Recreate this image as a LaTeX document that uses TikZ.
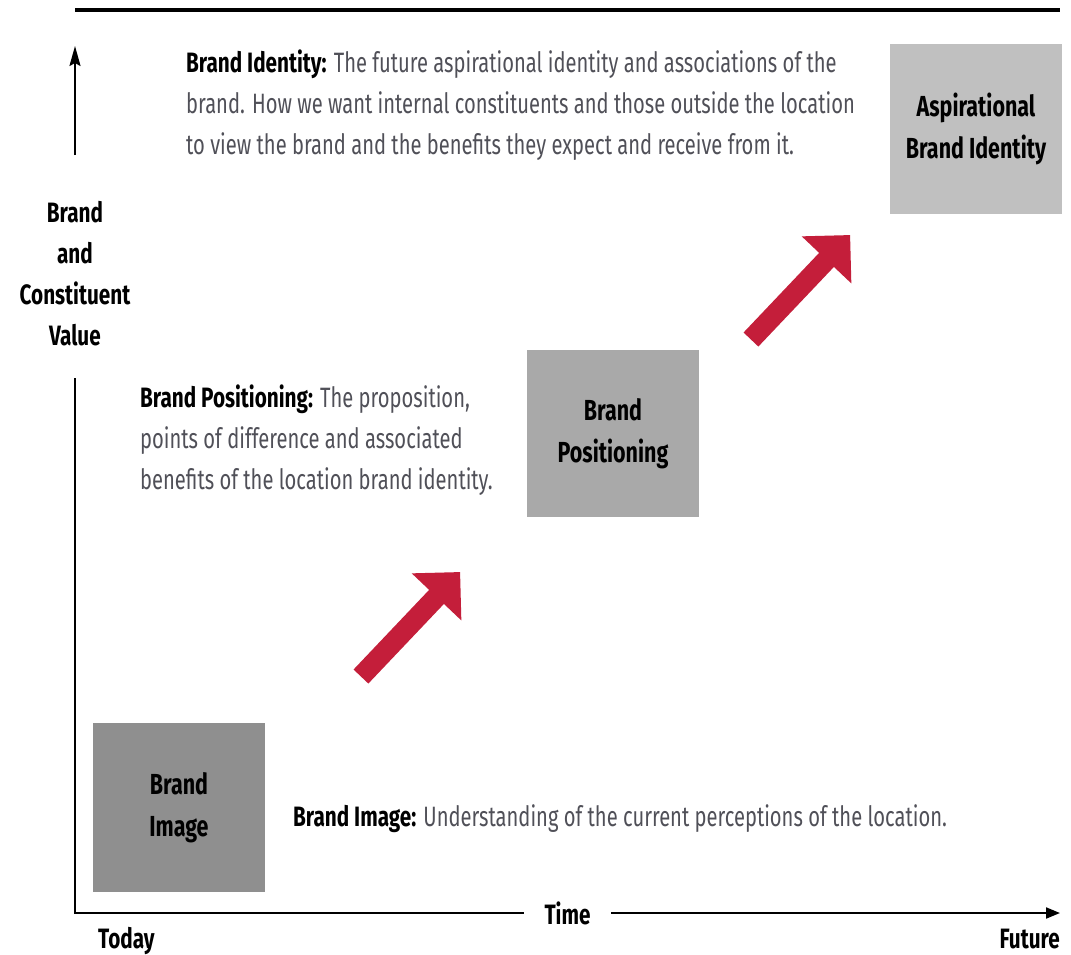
\documentclass[tikz,border=0pt]{standalone}
\usepackage{fontspec}
\setmainfont{Fira Sans}[FakeStretch=0.72, BoldFeatures={FakeStretch=0.74}]
\usetikzlibrary{shapes.arrows,arrows.meta}
\definecolor{arrowred}{HTML}{C41E3A}
\definecolor{boxA}{HTML}{8F8F8F}
\definecolor{boxB}{HTML}{A9A9A9}
\definecolor{boxC}{HTML}{C0C0C0}
\definecolor{desc}{HTML}{505058}
\begin{document}
\begin{tikzpicture}[x=1pt,y=-1pt,
  box/.style={minimum width=172pt, minimum height=170pt, inner sep=0pt, font=\bfseries\fontsize{29}{42}\selectfont, align=center, text=black},
  txtline/.style={anchor=base west, inner sep=0pt, font=\fontsize{28}{41}\selectfont, text=desc},
  redarrow/.style={single arrow, fill=arrowred, draw=none, inner sep=10pt, single arrow head extend=24pt, minimum height=144pt, rotate=46.5},
  axislabel/.style={font=\bfseries\fontsize{28}{41}\selectfont, inner sep=0pt, text=black},
  axisline/.style={line width=2pt, black},
]
\useasboundingbox (0,0) rectangle (1071,954);
\fill[white] (0,0) rectangle (1071,954);

% top rule
\coordinate (tl) at (75,10);
\coordinate (tr) at (1060,10);
\draw[line width=4pt] (tl) -- (tr);

% boxes
\node[box, fill=boxA, minimum height=169pt] (img) at (179,807.5) {Brand\\Image};
\node[box, fill=boxB, minimum height=167pt] (pos) at (613,433.5) {Brand\\Positioning};
\node[box, fill=boxC] (asp) at (976,129) {Aspirational\\Brand Identity};

% red arrows
\node[redarrow] (ar1) at (407,628) {};
\node[redarrow] (ar2) at (797,291) {};

% descriptions
\node[txtline] (bi1) at (186,72) {\textbf{\color{black}Brand Identity:} The future aspirational identity and associations of the};
\node[txtline] (bi2) at (186,113) {brand. How we want internal constituents and those outside the location};
\node[txtline] (bi3) at (186,154) {to view the brand and the benefits they expect and receive from it.};

\node[txtline] (bp1) at (140,407) {\textbf{\color{black}Brand Positioning:} The proposition,};
\node[txtline] (bp2) at (140,448) {points of difference and associated};
\node[txtline] (bp3) at (140,489) {benefits of the location brand identity.};

\node[txtline] (bm1) at (293,826) {\textbf{\color{black}Brand Image:} Understanding of the current perceptions of the location.};

% axes
\coordinate (ybot) at (75,155);
\coordinate (ytop) at (75,46);
\draw[axisline, -{Stealth[length=20pt,width=11pt,inset=3pt]}] (ybot) -- (ytop);
\node[axislabel, align=center] (ylab) at (75,274) {Brand\\and\\Constituent\\Value};

\coordinate (ystart) at (75,378);
\coordinate (origin) at (75,913);
\coordinate (xend) at (1060,913);
\draw[axisline, -{Triangle[length=14pt,width=11pt]}] (ystart) -- (origin) -- node[axislabel, fill=white, inner xsep=21pt, inner ysep=4pt] (time) {Time} (xend);

\node[axislabel, anchor=base west] (today) at (98,948) {Today};
\node[axislabel, anchor=base east] (future) at (1060,948) {Future};
\end{tikzpicture}
\end{document}
